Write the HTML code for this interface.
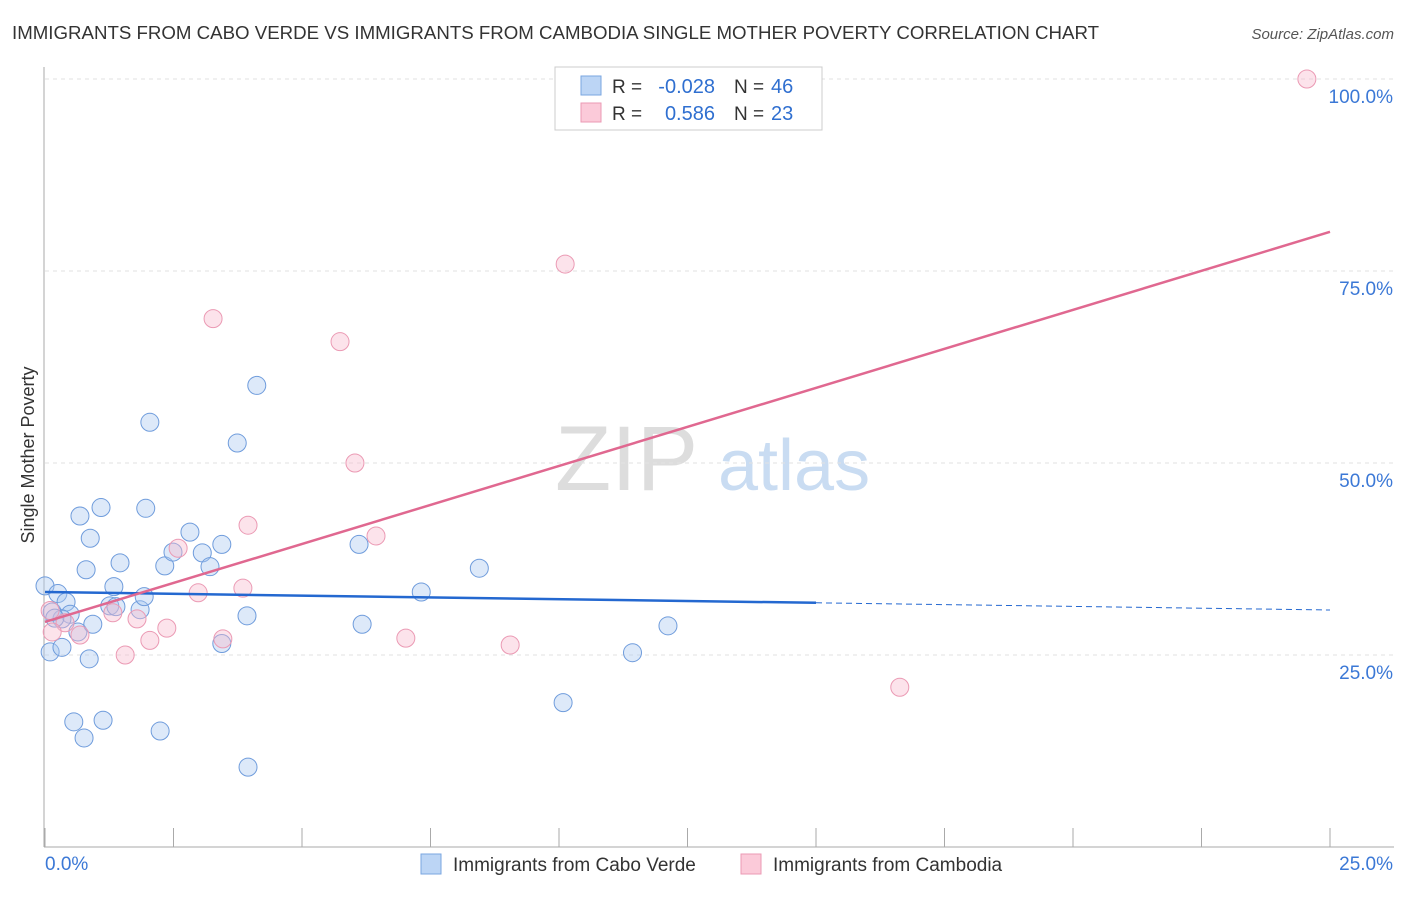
<!DOCTYPE html>
<html><head><meta charset="utf-8"><style>
body{margin:0;background:#fff;font-family:"Liberation Sans",sans-serif}
svg text{font-family:"Liberation Sans",sans-serif}
</style></head><body>
<svg id="chart" width="1406" height="892" viewBox="0 0 1406 892" xmlns="http://www.w3.org/2000/svg">
<text x="12" y="39" font-size="18" fill="#333" textLength="1087" lengthAdjust="spacingAndGlyphs">IMMIGRANTS FROM CABO VERDE VS IMMIGRANTS FROM CAMBODIA SINGLE MOTHER POVERTY CORRELATION CHART</text>
<text x="1394" y="39" font-size="15" fill="#555" text-anchor="end" font-style="italic">Source: ZipAtlas.com</text>
<text x="555" y="490" font-size="92" fill="#ddd" font-family="Liberation Serif">ZIP</text>
<text x="718" y="490" font-size="72" fill="#c9dcf2">atlas</text>
<text transform="translate(34,455) rotate(-90)" font-size="18" fill="#333" text-anchor="middle">Single Mother Poverty</text>
<g id="grid"></g><g id="axes"></g><g id="pts"></g><g id="lines"></g>
<g>
<rect x="555" y="67" width="267" height="63" fill="#fff" stroke="#ccc"/>
<rect x="581" y="76" width="20" height="19" fill="#bcd5f5" stroke="#7aa6e0"/>
<rect x="581" y="103" width="20" height="19" fill="#fbcad9" stroke="#eb9ab4"/>
<text x="612" y="93" font-size="19" fill="#333">R =</text>
<text x="715" y="93" font-size="20" fill="#2f6fd0" text-anchor="end">-0.028</text>
<text x="734" y="93" font-size="19" fill="#333">N =</text>
<text x="771" y="93" font-size="20" fill="#2f6fd0">46</text>
<text x="612" y="120" font-size="19" fill="#333">R =</text>
<text x="715" y="120" font-size="20" fill="#2f6fd0" text-anchor="end">0.586</text>
<text x="734" y="120" font-size="19" fill="#333">N =</text>
<text x="771" y="120" font-size="20" fill="#2f6fd0">23</text>
</g>
<g>
<rect x="421" y="854" width="20" height="20" fill="#bcd5f5" stroke="#7aa6e0"/>
<text x="453" y="871" font-size="19" fill="#333">Immigrants from Cabo Verde</text>
<rect x="741" y="854" width="20" height="20" fill="#fbcad9" stroke="#eb9ab4"/>
<text x="773" y="871" font-size="19" fill="#333">Immigrants from Cambodia</text>
</g>
</svg>
<script>
const blueX=[0,0.14,0.25,0.41,0.49,0.33,0.19,0.64,0.1,0.33,0.8,0.68,0.88,1.09,1.46,1.34,1.26,1.38,1.85,1.93,2.04,1.96,2.33,2.49,2.82,3.06,3.21,3.44,3.74,4.12,3.93,3.44,0.93,0.86,0.56,0.76,1.13,2.24,3.95,6.11,6.17,7.32,8.45,10.08,11.43,12.12];
const blueY=[34.0,30.6,33.0,31.9,30.3,29.7,29.8,28.0,25.4,26.0,36.1,43.1,40.2,44.2,37.0,33.9,31.4,31.3,30.9,32.6,55.3,44.1,36.6,38.4,41.0,38.3,36.5,39.4,52.6,60.1,30.1,26.5,29.0,24.5,16.3,14.2,16.5,15.1,10.4,39.4,29.0,33.2,36.3,18.8,25.3,28.8];
const pinkX=[24.55,10.12,3.27,5.74,6.03,3.95,6.44,2.59,2.98,3.85,1.32,1.79,0.39,0.1,0.14,0.68,2.04,2.37,3.46,1.56,7.02,9.05,16.63];
const pinkY=[100,75.9,68.8,65.8,50.0,41.9,40.5,38.9,33.1,33.7,30.5,29.7,29.2,30.8,28.0,27.6,26.9,28.5,27.1,25.0,27.2,26.3,20.8];
const yTicks=[25,50,75,100], yTickLabels=["25.0%","50.0%","75.0%","100.0%"];
const blueTrend=[33.2,30.86], pinkTrend=[29.3,80.1];
const X=v=>45+v/25*1285, Y=v=>847-v/100*768;
const NS="http://www.w3.org/2000/svg";
function mk(p,t,a){const e=document.createElementNS(NS,t);for(const k in a)e.setAttribute(k,a[k]);document.getElementById(p).appendChild(e);return e;}
yTicks.forEach((t,i)=>{
 const l=mk('grid','line',{x1:45,x2:1394,y1:Y(t),y2:Y(t),stroke:'#e2e2e2','stroke-dasharray':'4,4'});
 
 
 const tx=mk('grid','text',{x:1393,y:Y(t)+24,'font-size':19,fill:'#3b78d6','text-anchor':'end'});
 tx.textContent=yTickLabels[i];
 
 
});
let a=mk('axes','line',{x1:44,x2:44,y1:67,y2:847,stroke:'#aaa'});


a=mk('axes','line',{x1:44,x2:1394,y1:847,y2:847,stroke:'#aaa'});


for(let i=0;i<=10;i++){const t=mk('axes','line',{x1:X(i*2.5),x2:X(i*2.5),y1:828,y2:847,stroke:'#aaa'});
 
 }
[["0.0%",45,"start"],["25.0%",1393,"end"]].forEach(d=>{const t=mk('axes','text',{x:d[1],y:870,'font-size':19,fill:'#3b78d6','text-anchor':d[2]});t.textContent=d[0];
 
 });
blueX.forEach((v,i)=>{const c=mk('pts','circle',{cx:X(v),cy:Y(blueY[i]),r:9,fill:'rgba(170,200,240,0.4)',stroke:'#6f9cdc','stroke-width':1});
 
 });
pinkX.forEach((v,i)=>{const c=mk('pts','circle',{cx:X(v),cy:Y(pinkY[i]),r:9,fill:'rgba(248,185,205,0.4)',stroke:'#eb9ab4','stroke-width':1});
 
 });
const by=x=>blueTrend[0]+(blueTrend[1]-blueTrend[0])*x/25;
let l=mk('lines','line',{x1:X(0),y1:Y(by(0)),x2:X(15),y2:Y(by(15)),stroke:'#2468d0','stroke-width':2.5});


l=mk('lines','line',{x1:X(15),y1:Y(by(15)),x2:X(25),y2:Y(by(25)),stroke:'#2468d0','stroke-width':1,'stroke-dasharray':'6,4'});


l=mk('lines','line',{x1:X(0),y1:Y(pinkTrend[0]),x2:X(25),y2:Y(pinkTrend[1]),stroke:'#e06890','stroke-width':2.5});


</script>
</body></html>
